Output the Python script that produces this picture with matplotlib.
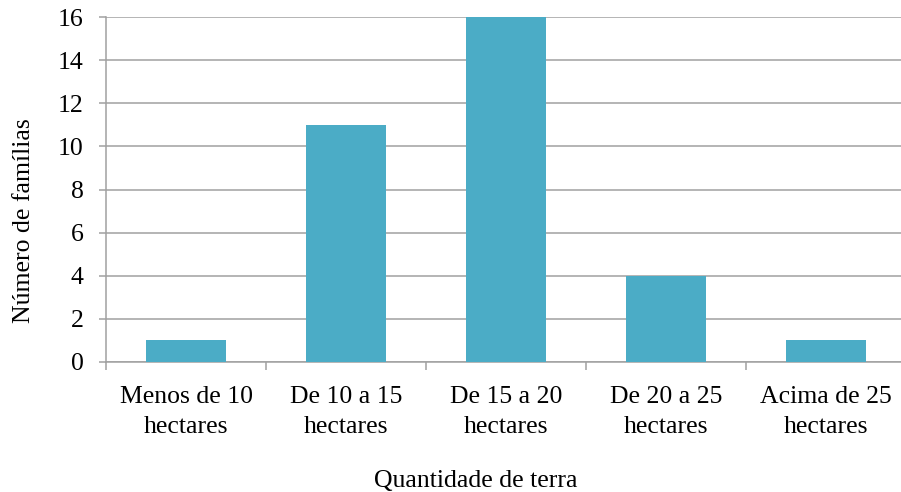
import matplotlib
matplotlib.use("Agg")
import matplotlib.pyplot as plt
from matplotlib.ticker import FixedLocator

categories = ["Menos de 10\nhectares", "De 10 a 15\nhectares", "De 15 a 20\nhectares",
              "De 20 a 25\nhectares", "Acima de 25\nhectares"]
familias = [1, 11, 16, 4, 1]
y_ticks = [0, 2, 4, 6, 8, 10, 12, 14, 16]

plt.rcParams["font.family"] = ["Liberation Serif", "DejaVu Serif"]
fs = 18.5

fig = plt.figure(figsize=(9.01, 4.92), dpi=100)
ax = fig.add_axes([106 / 901, 130 / 492, 800 / 901, 345 / 492])

x = list(range(len(categories)))
ax.bar(x, familias, width=0.5, color="#4BACC6", zorder=3)

grid_c = "#A0A0A0"
ax.set_xlim(-0.5, len(categories) - 0.5)
ax.set_ylim(0, 16)
ax.set_yticks(y_ticks)
ax.yaxis.grid(True, color=grid_c, linewidth=1.1, zorder=0)
ax.tick_params(axis="y", direction="out", length=5, width=1.1, color=grid_c,
               labelsize=fs, pad=11)

ax.set_xticks(x)
ax.set_xticklabels(categories, fontsize=fs, linespacing=1.5)
ax.tick_params(axis="x", which="major", length=0, pad=17)
ax.xaxis.set_minor_locator(FixedLocator([i + 0.5 for i in range(len(categories) - 1)] + [-0.5]))
ax.tick_params(axis="x", which="minor", direction="out", length=6, width=1.1, color=grid_c)

for s in ["top", "right"]:
    ax.spines[s].set_visible(False)
for s in ["left", "bottom"]:
    ax.spines[s].set_color(grid_c)
    ax.spines[s].set_linewidth(1.1)

ax.set_ylabel("Número de famílias", fontsize=fs, va="center", ha="center")
ax.yaxis.set_label_coords(-82 / 800, 141 / 345)
ax.set_xlabel("Quantidade de terra", fontsize=fs, va="center", ha="center")
ax.xaxis.set_label_coords(0.5 - 30 / 800, -119 / 345)

fig.savefig("out.png", dpi=100, facecolor="white")
